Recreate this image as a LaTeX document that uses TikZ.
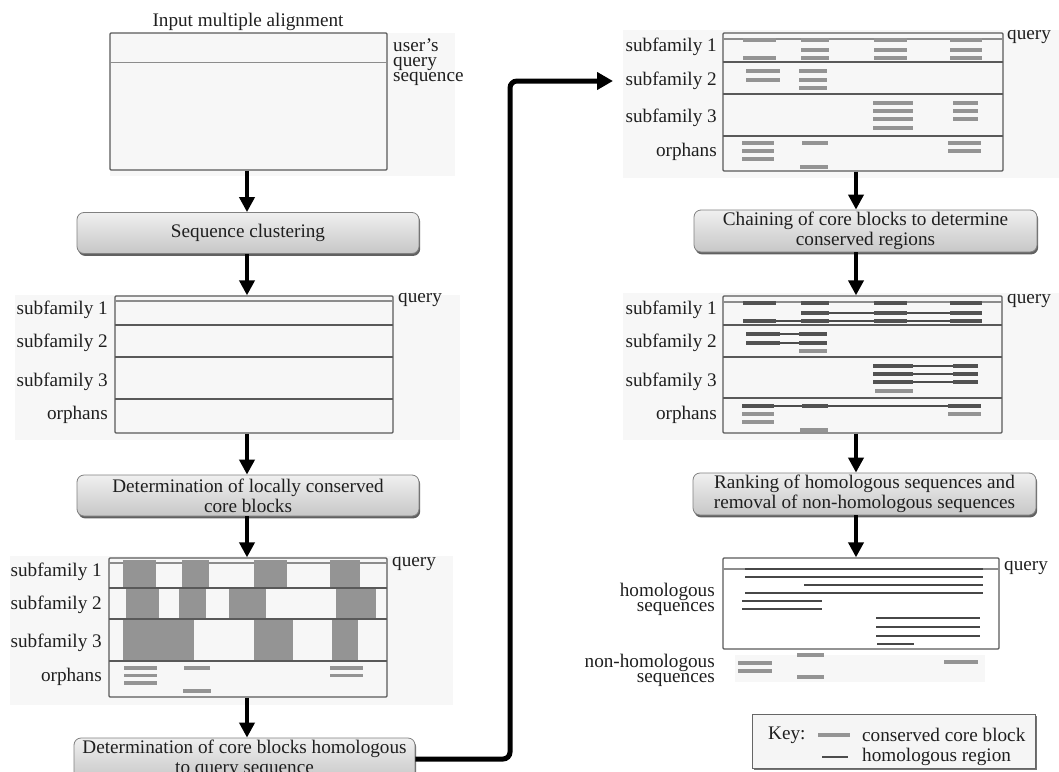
\documentclass[tikz,border=0pt]{standalone}
\usepackage{fontspec}
\setmainfont{Liberation Serif}
\usetikzlibrary{arrows.meta,shadows}

\begin{document}
\begin{tikzpicture}[x=1pt,y=-1pt,
  txt/.style={font=\fontsize{19.2}{15}\selectfont, text=black!88, inner sep=0pt},
  lbl/.style={txt, anchor=east},
  stage/.style={rounded corners=7pt, draw=black!50, line width=0.8pt,
    top color=black!6, bottom color=black!22,
    drop shadow={shadow xshift=1.2pt, shadow yshift=-2.4pt, fill=black!62, opacity=1},
    align=center, font=\fontsize{19.2}{20}\selectfont, text=black!88,
    minimum width=342pt, minimum height=41pt, inner sep=0pt},
  alnbox/.style={draw=black!65, line width=1.3pt, rounded corners=1pt, inner sep=0pt},
  keybox/.style={draw=black!60, line width=1pt, fill=black!4, inner sep=0pt,
    drop shadow={shadow xshift=1.6pt, shadow yshift=-1.6pt, fill=black!55, opacity=1}},
  sepline/.style={draw=black!65, line width=1.3pt},
  qline/.style={draw=black!45, line width=1.2pt},
  block/.style={fill=black!42},
  core/.style={draw=black!42, line width=3.6pt},
  chained/.style={draw=black!68, line width=3.6pt},
  link/.style={draw=black!70, line width=1.1pt},
  hom/.style={draw=black!72, line width=2pt},
  halftone/.style={fill=black!3},
  flow/.style={draw=black, line width=4.2pt, -{Triangle[width=15pt,length=15pt]}},
  bigflow/.style={draw=black, line width=5pt, rounded corners=7pt, -{Triangle[width=17pt,length=16pt]}}
]
\useasboundingbox (0,0) rectangle (1059,771);

% screened backdrops behind the alignment panels
\fill[halftone] (110,33) rectangle (455,176);
\fill[halftone] (15,295) rectangle (460,440);
\fill[halftone] (10,556) rectangle (453,705);
\fill[halftone] (623,30) rectangle (1059,178);
\fill[halftone] (623,293) rectangle (1059,440);
\fill[halftone] (735,655) rectangle (985,682);

% column axes for the vertical arrows
\coordinate (colL) at (247,0);
\coordinate (colR) at (856,0);

%% ---------------- left column ----------------
\node[txt] (title) at (248,22) {Input multiple alignment};
\node[alnbox, minimum width=277pt, minimum height=137pt] (inbox) at (248.5,101.5) {};
\draw[qline] (110,62.5) -- (387,62.5);
\node[txt, anchor=west, align=left] (qlabel) at (393,62) {user’s\\query\\sequence};

\node[stage] (clust) at (248,233) {Sequence clustering};

% clustered alignment
\node[alnbox, minimum width=278pt, minimum height=137pt] (sfbox) at (254,364.5) {};
\draw[qline] (115,301) -- (393,301);
\draw[sepline] (115,325) -- (393,325);
\draw[sepline] (115,357) -- (393,357);
\draw[sepline] (115,399) -- (393,399);
\node[lbl] (sfa) at (108,310) {subfamily 1};
\node[lbl] (sfb) at (108,343) {subfamily 2};
\node[lbl] (sfc) at (108,382) {subfamily 3};
\node[lbl] (sfo) at (108,415) {orphans};
\node[txt, anchor=west] (sfq) at (398,300) {query};

\node[stage] (corestep) at (248,495.5) {Determination of locally conserved\\core blocks};

% core blocks per subfamily
\node[alnbox, minimum width=278pt, minimum height=139pt] (cbbox) at (248,627.5) {};
\draw[qline] (109,563) -- (387,563);
\foreach \a/\b in {123/156,182/209,254/287,330/360} \fill[block] (\a,559.5) rectangle (\b,588);
\foreach \a/\b in {126/159,179/206,229/266,336/376} \fill[block] (\a,588) rectangle (\b,619);
\foreach \a/\b in {123/194,254/293,332/358} \fill[block] (\a,619) rectangle (\b,661);
\draw[sepline] (109,588) -- (387,588);
\draw[sepline] (109,619) -- (387,619);
\draw[sepline] (109,661) -- (387,661);
\foreach \y in {668,675.5,683} \draw[core] (124,\y) -- (157,\y);
\draw[core] (184,668) -- (210,668);
\draw[core] (183,691) -- (211,691);
\foreach \y in {668,675.5} \draw[core] (330,\y) -- (363,\y);
\node[lbl] (cba) at (102,572) {subfamily 1};
\node[lbl] (cbb) at (102,605) {subfamily 2};
\node[lbl] (cbc) at (102,643) {subfamily 3};
\node[lbl] (cbo) at (102,677) {orphans};
\node[txt, anchor=west] (cbq) at (392,564) {query};

\node[stage, minimum width=341pt, minimum height=42pt] (hq) at (244.5,759) {Determination of core blocks homologous\\to query sequence};

\draw[flow] (colL |- inbox.south) -- (colL |- clust.north);
\draw[flow] (colL |- clust.south) -- (colL |- sfbox.north);
\draw[flow] (colL |- sfbox.south) -- (colL |- corestep.north);
\draw[flow] (colL |- corestep.south) -- (colL |- cbbox.north);
\draw[flow] (colL |- cbbox.south) -- (colL |- hq.north);

%% ---------------- right column ----------------
% homologous core blocks
\node[alnbox, minimum width=280pt, minimum height=138pt] (rba) at (863,102) {};
\draw[qline] (723,39) -- (1003,39);
\draw[sepline] (723,62) -- (1003,62);
\draw[sepline] (723,94) -- (1003,94);
\draw[sepline] (723,136) -- (1003,136);
\foreach \y in {40,58} \draw[core] (743,\y) -- (776,\y);
\foreach \y in {40,50,58} {
  \draw[core] (801,\y) -- (829,\y);
  \draw[core] (874,\y) -- (907,\y);
  \draw[core] (950,\y) -- (982,\y);
}
\foreach \y in {71,80} \draw[core] (746,\y) -- (780,\y);
\foreach \y in {71,80,88} \draw[core] (799,\y) -- (827,\y);
\foreach \y in {103,111,119,128} \draw[core] (873,\y) -- (913,\y);
\foreach \y in {103,111,119} \draw[core] (953,\y) -- (978,\y);
\foreach \y in {143,151,159} \draw[core] (742,\y) -- (774,\y);
\draw[core] (802,143) -- (828,143);
\draw[core] (800,167) -- (828,167);
\foreach \y in {143,151} \draw[core] (948,\y) -- (981,\y);
\node[lbl] (raa) at (717,47) {subfamily 1};
\node[lbl] (rab) at (717,81) {subfamily 2};
\node[lbl] (rac) at (717,118) {subfamily 3};
\node[lbl] (rao) at (717,152) {orphans};
\node[txt, anchor=west] (raq) at (1007,37) {query};

\node[stage, minimum width=343pt, minimum height=42pt] (chain) at (865.5,231) {Chaining of core blocks to determine\\conserved regions};

% chained conserved regions
\node[alnbox, minimum width=279pt, minimum height=137pt] (rbb) at (862.5,364.5) {};
\draw[qline] (723,302) -- (1002,302);
\draw[sepline] (723,325) -- (1002,325);
\draw[sepline] (723,357) -- (1002,357);
\draw[sepline] (723,398) -- (1002,398);
\draw[link] (829,313) -- (950,313);
\draw[link] (776,321) -- (950,321);
\foreach \y in {303,321} \draw[chained] (743,\y) -- (776,\y);
\foreach \y in {303,313,321} {
  \draw[chained] (801,\y) -- (829,\y);
  \draw[chained] (874,\y) -- (907,\y);
  \draw[chained] (950,\y) -- (982,\y);
}
\foreach \y in {334,343} {
  \draw[link] (780,\y) -- (799,\y);
  \draw[chained] (746,\y) -- (780,\y);
  \draw[chained] (799,\y) -- (827,\y);
}
\draw[core] (799,351) -- (827,351);
\foreach \y in {366,374,382} {
  \draw[link] (913,\y) -- (953,\y);
  \draw[chained] (873,\y) -- (913,\y);
  \draw[chained] (953,\y) -- (978,\y);
}
\draw[core] (875,391) -- (913,391);
\draw[link] (774,406) -- (948,406);
\draw[chained] (742,406) -- (774,406);
\draw[chained] (802,406) -- (828,406);
\draw[chained] (948,406) -- (981,406);
\foreach \y in {414,422} \draw[core] (742,\y) -- (774,\y);
\draw[core] (948,414) -- (981,414);
\draw[core] (800,430) -- (828,430);
\node[lbl] (rba1) at (717,310) {subfamily 1};
\node[lbl] (rbb1) at (717,343) {subfamily 2};
\node[lbl] (rbc1) at (717,382) {subfamily 3};
\node[lbl] (rbo1) at (717,415) {orphans};
\node[txt, anchor=west] (rbq) at (1007,301) {query};

\node[stage, minimum width=343pt, minimum height=42pt] (rank) at (864.5,494) {Ranking of homologous sequences and\\removal of non-homologous sequences};

% ranked homologous sequences
\node[alnbox, minimum width=276pt, minimum height=91pt] (rbc) at (861,603.5) {};
\draw[qline] (723,569) -- (999,569);
\foreach \y in {569,577,593} \draw[hom] (745,\y) -- (983,\y);
\draw[hom] (804,585) -- (983,585);
\foreach \y in {601,609} \draw[hom] (742,\y) -- (822,\y);
\foreach \y in {618,627,636} \draw[hom] (876,\y) -- (980,\y);
\draw[hom] (877,644) -- (914,644);
\foreach \y in {663,671} \draw[core] (738,\y) -- (772,\y);
\foreach \y in {655,677} \draw[core] (797,\y) -- (824,\y);
\draw[core] (944,662) -- (978,662);
\node[txt, anchor=east, align=right] (homl) at (715,599) {homologous\\sequences};
\node[txt, anchor=east, align=right] (nhoml) at (715,670) {non-homologous\\sequences};
\node[txt, anchor=west] (rcq) at (1004,568) {query};

\draw[flow] (colR |- rba.south) -- (colR |- chain.north);
\draw[flow] (colR |- chain.south) -- (colR |- rbb.north);
\draw[flow] (colR |- rbb.south) -- (colR |- rank.north);
\draw[flow] (colR |- rank.south) -- (colR |- rbc.north);

% key
\node[keybox, minimum width=283pt, minimum height=54pt] (key) at (893.5,741) {};
\node[txt, anchor=west] (keyt) at (768,735) {Key:};
\draw[core] (818,735) -- (850,735);
\node[txt, anchor=west] (keya) at (862,735) {conserved core block};
\draw[link] (822,757) -- (848,757);
\node[txt, anchor=west] (keyb) at (862,757) {homologous region};

% hand-over from the left column to the right column
\coordinate (rail) at (510,0);
\coordinate (entry) at (613,81);
\draw[bigflow] (hq.east) -| (rail |- entry) -- (entry);

\end{tikzpicture}
\end{document}
